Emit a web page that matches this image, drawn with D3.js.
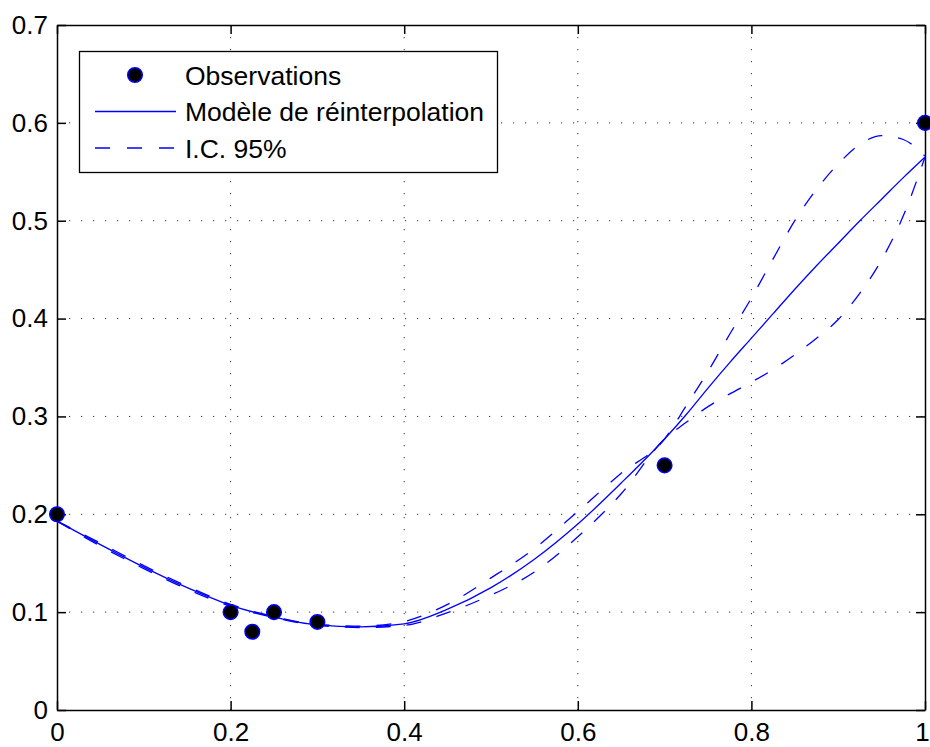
<!DOCTYPE html>
<html>

<head>
    <meta charset='utf-8'>
</head>
<style>
    body {
        margin: 0;
        background: #fff;
    }

    text {
        font-family: "Liberation Sans", Arial, sans-serif;
        font-size: 26px;
        fill: #000;
    }

    .grid line {
        stroke: #333;
        stroke-width: 1;
        stroke-dasharray: 1.2, 10.8;
    }

    .axis path,
    .axis line {
        stroke: #000;
        stroke-width: 1.5;
    }
</style>

<body>
    <div id='chart'></div>
    <script src="https://d3js.org/d3.v7.min.js"></script>
    <script>
        // observations
        var obsX = [0, 0.2, 0.225, 0.25, 0.3, 0.7, 1];
        var obsY = [0.2, 0.1, 0.08, 0.1, 0.09, 0.25, 0.6];

        // abscissas where the model and the CI were read
        var gridX = [0, 0.05, 0.1, 0.15, 0.2, 0.25, 0.3, 0.35, 0.4, 0.45, 0.5, 0.55, 0.6, 0.65,
            0.7, 0.725, 0.75, 0.775, 0.8, 0.825, 0.85, 0.875, 0.9, 0.925, 0.95, 0.975, 1];
        var model = [0.193, 0.169, 0.146, 0.125, 0.107, 0.095, 0.087, 0.085, 0.088, 0.103, 0.125, 0.154, 0.190, 0.232,
            0.277, 0.302, 0.329, 0.355, 0.380, 0.405, 0.430, 0.454, 0.477, 0.500, 0.522, 0.544, 0.565];
        var ciUpper = [0.193, 0.1705, 0.1475, 0.1265, 0.108, 0.0955, 0.0875, 0.0857, 0.0905, 0.108, 0.135, 0.165, 0.203, 0.242,
            0.277, 0.311, 0.346, 0.384, 0.421, 0.461, 0.500, 0.532, 0.558, 0.578, 0.587, 0.583, 0.566];
        var ciLower = [0.193, 0.1675, 0.1445, 0.1235, 0.106, 0.0945, 0.0865, 0.0843, 0.0865, 0.0995, 0.1175, 0.141, 0.177, 0.221,
            0.277, 0.294, 0.310, 0.323, 0.335, 0.348, 0.363, 0.380, 0.399, 0.426, 0.460, 0.505, 0.565];

        var xTicks = [0, 0.2, 0.4, 0.6, 0.8, 1];
        var yTicks = [0, 0.1, 0.2, 0.3, 0.4, 0.5, 0.6, 0.7];
        var legendLabels = ["Observations", "Modèle de réinterpolation", "I.C. 95%"];

        var width = 930,
            height = 747;
        var margin = { left: 57, right: 5, top: 25, bottom: 37 };

        var svg = d3.select('#chart').append('svg')
            .attr('width', width)
            .attr('height', height);

        svg.append('rect').attr('width', width).attr('height', height).attr('fill', '#fff');

        var x = d3.scaleLinear().domain([0, 1]).range([margin.left, width - margin.right]);
        var y = d3.scaleLinear().domain([0, 0.7]).range([height - margin.bottom, margin.top]);

        // dotted grid
        var grid = svg.append('g').attr('class', 'grid');
        grid.selectAll('.gx').data(xTicks.slice(1, -1))
            .enter().append('line')
            .attr('x1', function(d) { return x(d); })
            .attr('x2', function(d) { return x(d); })
            .attr('y1', y(0.7))
            .attr('y2', y(0));
        grid.selectAll('.gy').data(yTicks.slice(1, -1))
            .enter().append('line')
            .attr('x1', x(0))
            .attr('x2', x(1))
            .attr('y1', function(d) { return y(d); })
            .attr('y2', function(d) { return y(d); });

        // axes, ticks pointing inward, box all round
        var xAxis = svg.append('g').attr('class', 'axis')
            .attr('transform', 'translate(0,' + y(0) + ')')
            .call(d3.axisBottom(x).tickValues(xTicks).tickFormat(d3.format('')).tickSize(-9).tickSizeOuter(0).tickPadding(13));
        svg.append('g').attr('class', 'axis')
            .attr('transform', 'translate(' + x(0) + ',0)')
            .call(d3.axisLeft(y).tickValues(yTicks).tickFormat(d3.format('')).tickSize(-9).tickSizeOuter(0).tickPadding(9));
        svg.append('g').attr('class', 'axis')
            .attr('transform', 'translate(0,' + y(0.7) + ')')
            .call(d3.axisTop(x).tickValues(xTicks).tickFormat('').tickSize(-9).tickSizeOuter(0));
        svg.append('g').attr('class', 'axis')
            .attr('transform', 'translate(' + x(1) + ',0)')
            .call(d3.axisRight(y).tickValues(yTicks).tickFormat('').tickSize(-9).tickSizeOuter(0));

        svg.selectAll('.axis text').style('font-size', '26px').attr('fill', '#000');
        svg.selectAll('.axis .domain').attr('stroke-width', 1.5);
        // last label sits at the page edge, keep it inside
        xAxis.selectAll('.tick text').filter(function(d) { return d === 1; }).attr('dx', -3);

        var line = d3.line()
            .x(function(d) { return x(d[0]); })
            .y(function(d) { return y(d[1]); })
            .curve(d3.curveMonotoneX);

        function pairs(ys) {
            return gridX.map(function(v, i) { return [v, ys[i]]; });
        }

        svg.append('path')
            .attr('d', line(pairs(ciUpper)))
            .attr('fill', 'none')
            .attr('stroke', '#0000ff')
            .attr('stroke-width', 1.3)
            .attr('stroke-dasharray', '15,16');
        svg.append('path')
            .attr('d', line(pairs(ciLower)))
            .attr('fill', 'none')
            .attr('stroke', '#0000ff')
            .attr('stroke-width', 1.3)
            .attr('stroke-dasharray', '15,16');
        svg.append('path')
            .attr('d', line(pairs(model)))
            .attr('fill', 'none')
            .attr('stroke', '#0000ff')
            .attr('stroke-width', 1.3);

        // observation markers
        svg.selectAll('.obs').data(obsX)
            .enter().append('circle')
            .attr('class', 'obs')
            .attr('cx', function(d) { return x(d); })
            .attr('cy', function(d, i) { return y(obsY[i]); })
            .attr('r', 7.3)
            .attr('fill', '#000')
            .attr('stroke', '#0000ff')
            .attr('stroke-width', 1.5);

        // legend
        var lg = svg.append('g');
        lg.append('rect')
            .attr('x', 79.5).attr('y', 51.5)
            .attr('width', 418).attr('height', 121)
            .attr('fill', '#fff')
            .attr('stroke', '#000')
            .attr('stroke-width', 1.3);

        var rows = [75, 111.5, 148];
        lg.append('circle')
            .attr('cx', 135).attr('cy', rows[0]).attr('r', 7.3)
            .attr('fill', '#000').attr('stroke', '#0000ff').attr('stroke-width', 1.5);
        lg.append('line')
            .attr('x1', 95).attr('x2', 176).attr('y1', rows[1]).attr('y2', rows[1])
            .attr('stroke', '#0000ff').attr('stroke-width', 1.3);
        lg.append('line')
            .attr('x1', 95).attr('x2', 176).attr('y1', rows[2]).attr('y2', rows[2])
            .attr('stroke', '#0000ff').attr('stroke-width', 1.3)
            .attr('stroke-dasharray', '15,17');
        lg.selectAll('.lt').data(legendLabels)
            .enter().append('text')
            .attr('x', 185)
            .attr('y', function(d, i) { return rows[i]; })
            .attr('dy', '0.36em')
            .style('font-size', '26.5px')
            .text(function(d) { return d; });
    </script>
</body>

</html>
